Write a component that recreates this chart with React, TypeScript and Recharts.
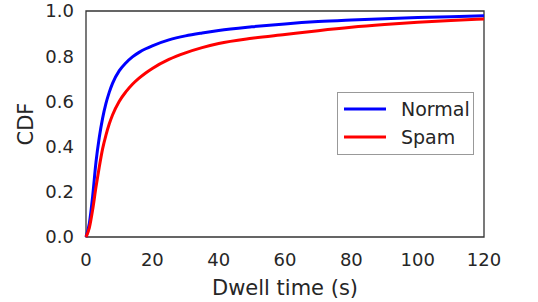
import { LineChart, Line, XAxis, YAxis, Legend, ReferenceArea, Label } from 'recharts'

const dwellTimes = [0, 1, 2, 3, 4, 5, 6, 7, 8, 10, 12, 14, 16, 18, 20, 25, 30, 35, 40, 50, 60, 70, 80, 90, 100, 110, 120]
const normalCdf = [0, 0.06, 0.18, 0.33, 0.44, 0.525, 0.59, 0.64, 0.68, 0.735, 0.77, 0.797, 0.817, 0.833, 0.846, 0.872, 0.89, 0.903, 0.914, 0.93, 0.943, 0.953, 0.96, 0.966, 0.971, 0.975, 0.979]
const spamCdf = [0, 0.04, 0.12, 0.22, 0.31, 0.39, 0.45, 0.5, 0.54, 0.6, 0.642, 0.676, 0.703, 0.726, 0.746, 0.786, 0.815, 0.838, 0.856, 0.879, 0.896, 0.913, 0.928, 0.94, 0.95, 0.958, 0.965]
const xTicks = [0, 20, 40, 60, 80, 100, 120]
const yTicks = [0, 0.2, 0.4, 0.6, 0.8, 1.0]

const FONT = '"DejaVu Sans", sans-serif'
const TEXT = '#262626'

const data = dwellTimes.map((t, i) => ({ t, normal: normalCdf[i], spam: spamCdf[i] }))

function LegendBox({ payload }: any) {
  return (
    <div
      style={{
        border: '1px solid #999',
        background: '#fff',
        width: 135,
        height: 61,
        boxSizing: 'content-box',
        fontFamily: FONT,
        fontSize: 19,
        color: TEXT,
      }}
    >
      {(payload || []).map((entry: any, i: number) => (
        <div key={entry.value} style={{ display: 'flex', alignItems: 'center', height: 28, marginTop: i === 0 ? 2 : 0 }}>
          <svg width={42} height={4} style={{ marginLeft: 6, marginRight: 15 }}>
            <line x1={0} y1={2} x2={42} y2={2} stroke={entry.color} strokeWidth={3} />
          </svg>
          <span>{entry.value}</span>
        </div>
      ))}
    </div>
  )
}

export default function App() {
  return (
    <div style={{ position: 'absolute', left: 0, top: 0, width: 538, height: 302, background: '#fff' }}>
      <LineChart width={538} height={302} data={data} margin={{ top: 11, right: 54, left: 0, bottom: 0 }}>
        <XAxis
          dataKey="t"
          type="number"
          domain={[0, 120]}
          ticks={xTicks}
          axisLine={false}
          tickLine={false}
          tickSize={0}
          tickMargin={16}
          height={65}
          tick={{ fill: TEXT, fontSize: 18, fontFamily: FONT }}
        >
          <Label
            content={({ viewBox }: any) => (
              <text
                x={viewBox.x + viewBox.width / 2}
                y={viewBox.y + viewBox.height - 7}
                textAnchor="middle"
                fill={TEXT}
                fontSize={21}
                fontFamily={FONT}
              >
                Dwell time (s)
              </text>
            )}
          />
        </XAxis>
        <YAxis
          type="number"
          domain={[0, 1]}
          ticks={yTicks}
          tickFormatter={(v: number) => v.toFixed(1)}
          axisLine={false}
          tickLine={false}
          tickSize={0}
          tickMargin={12}
          width={86}
          tick={{ fill: TEXT, fontSize: 18, fontFamily: FONT }}
        >
          <Label
            content={({ viewBox }: any) => {
              const x = viewBox.x + 33
              const y = viewBox.y + viewBox.height / 2
              return (
                <text
                  x={x}
                  y={y}
                  transform={`rotate(-90 ${x} ${y})`}
                  textAnchor="middle"
                  fill={TEXT}
                  fontSize={21}
                  fontFamily={FONT}
                >
                  CDF
                </text>
              )
            }}
          />
        </YAxis>
        <ReferenceArea x1={0} x2={120} y1={0} y2={1} fill="none" stroke="#333" strokeWidth={1.3} />
        <Line dataKey="normal" name="Normal" type="monotone" stroke="#0000ff" strokeWidth={3} dot={false} isAnimationActive={false} />
        <Line dataKey="spam" name="Spam" type="monotone" stroke="#ff0000" strokeWidth={3} dot={false} isAnimationActive={false} />
        <Legend
          layout="vertical"
          align="center"
          verticalAlign="middle"
          content={<LegendBox />}
          wrapperStyle={{ left: 337, top: 92, width: 'auto', height: 'auto' }}
        />
      </LineChart>
    </div>
  )
}
